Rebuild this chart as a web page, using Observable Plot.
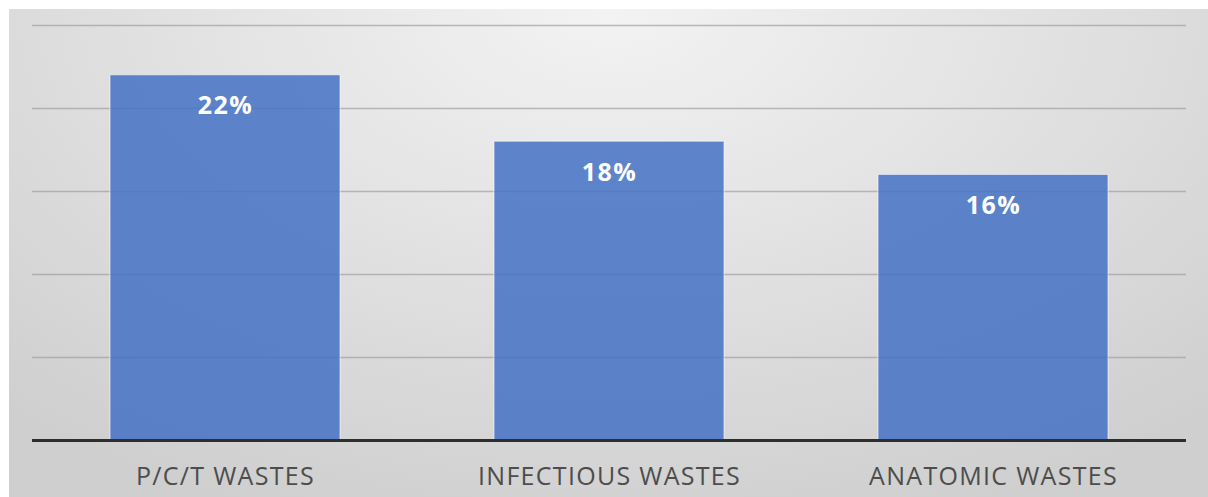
<!DOCTYPE html>
<html>
<head>
<meta charset="utf-8">
<script src="https://cdn.jsdelivr.net/npm/d3@7"></script>
<script src="https://cdn.jsdelivr.net/npm/@observablehq/plot@0.6"></script>
<style>
  html, body { margin: 0; padding: 0; background: #ffffff; }
  #wrap { padding: 9px 0 0 9px; width: 1199px; }
  #chart {
    width: 1199px; height: 488px;
    background: radial-gradient(ellipse 75% 110% at 50% 0%, #f3f3f3 0%, #e3e3e3 45%, #cfcfcf 100%);
  }
  #chart svg { background: transparent; }
  #chart svg g[aria-label="x-axis tick label"] text { letter-spacing: 1.3px; }
  #chart svg g[aria-label="text"] text { letter-spacing: 1.5px; }
</style>
</head>
<body>
<div id="wrap"><div id="chart"></div></div>
<script>
const categories = ["P/C/T WASTES", "INFECTIOUS WASTES", "ANATOMIC WASTES"];
const values = [22, 18, 16];
const gridTicks = [5, 10, 15, 20, 25];

const data = categories.map((c, i) => ({category: c, value: values[i]}));

const plot = Plot.plot({
  width: 1199,
  height: 488,
  marginTop: 16,
  marginBottom: 57,
  marginLeft: 23,
  marginRight: 22,
  style: {background: "transparent", fontFamily: "'Open Sans', sans-serif"},
  x: {domain: categories, paddingInner: 0.4, paddingOuter: 0.2, label: null},
  y: {domain: [0, 25], axis: null},
  marks: [
    Plot.ruleY(gridTicks, {stroke: "#a0a0a0", strokeWidth: 1.5, strokeOpacity: 0.7}),
    Plot.barY(data, {x: "category", y: "value", fill: "#4472C4", fillOpacity: 0.85, stroke: "#ffffff", strokeOpacity: 0.6, strokeWidth: 1}),
    Plot.text(data, {x: "category", y: "value", text: d => d.value + "%", dy: 31, fill: "#ffffff", fontSize: 25, fontWeight: "bold"}),
    Plot.ruleY([0], {stroke: "#2e2e2e", strokeWidth: 3}),
    Plot.axisX({tickSize: 0, tickPadding: 27, fontSize: 25, color: "#4d4d4d", label: null})
  ]
});
document.getElementById("chart").appendChild(plot);
</script>
</body>
</html>
